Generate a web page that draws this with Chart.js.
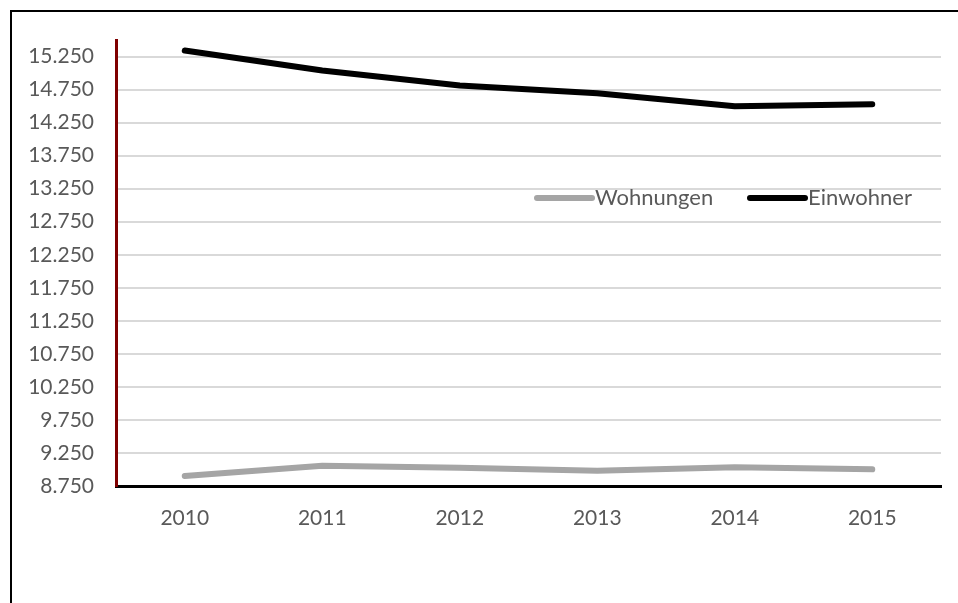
<!DOCTYPE html>
<html>
<head>
<meta charset="utf-8">
<script src="https://cdn.jsdelivr.net/npm/chart.js@4/dist/chart.umd.min.js"></script>
<style>
  html, body { margin: 0; padding: 0; background: #fff; }
  #wrap { width: 958px; height: 603px; }
</style>
</head>
<body>
<div id="wrap"><canvas id="chart" width="958" height="603"></canvas></div>
<script>
// Werte
const jahre = ['2010', '2011', '2012', '2013', '2014', '2015'];
const wohnungen = [8901, 9057, 9027, 8981, 9033, 9002];
const einwohner = [15340, 15038, 14811, 14695, 14498, 14528];
const yTicks = [8750, 9250, 9750, 10250, 10750, 11250, 11750, 12250, 12750, 13250, 13750, 14250, 14750, 15250];
const yMin = 8750;
const yMax = 15500;

const schrift = "Lato, 'Open Sans', sans-serif";
const textFarbe = '#595959';

// Rahmen um das ganze Diagramm
const rahmen = {
    id: 'rahmen',
    beforeDraw(chart) {
        const ctx = chart.ctx;
        ctx.save();
        ctx.fillStyle = '#fff';
        ctx.fillRect(0, 0, chart.width, chart.height);
        ctx.strokeStyle = '#000';
        ctx.lineWidth = 2;
        ctx.strokeRect(11, 11, chart.width + 10, chart.height + 10);
        ctx.restore();
    }
};

// Legende innerhalb der Zeichenfläche
const legende = {
    id: 'legende',
    afterDraw(chart) {
        const ctx = chart.ctx;
        const area = chart.chartArea;
        const y = area.top + 158;
        const starts = [area.left + 421, area.left + 634];
        ctx.save();
        ctx.font = '22px ' + schrift;
        ctx.textBaseline = 'middle';
        chart.data.datasets.forEach(function (ds, i) {
            const x = starts[i];
            ctx.strokeStyle = ds.borderColor;
            ctx.lineWidth = 6;
            ctx.lineCap = 'round';
            ctx.beginPath();
            ctx.moveTo(x, y);
            ctx.lineTo(x + 55, y);
            ctx.stroke();
            ctx.fillStyle = textFarbe;
            ctx.fillText(ds.label, x + 58, y);
        });
        ctx.restore();
    }
};

const ctx = document.getElementById('chart').getContext('2d');
const myChart = new Chart(ctx, {
    type: 'line',
    data: {
        labels: jahre,
        datasets: [{
            label: 'Wohnungen',
            data: wohnungen,
            borderColor: '#A5A5A5',
            backgroundColor: '#A5A5A5',
            borderWidth: 6,
            borderCapStyle: 'round',
            borderJoinStyle: 'round',
            pointRadius: 0,
            tension: 0
        }, {
            label: 'Einwohner',
            data: einwohner,
            borderColor: '#000000',
            backgroundColor: '#000000',
            borderWidth: 6,
            borderCapStyle: 'round',
            borderJoinStyle: 'round',
            pointRadius: 0,
            tension: 0
        }]
    },
    options: {
        responsive: false,
        animation: false,
        layout: {
            padding: { top: 40, right: 17, bottom: 0, left: 0 }
        },
        plugins: {
            legend: { display: false },
            tooltip: { enabled: false }
        },
        scales: {
            x: {
                offset: true,
                grid: { display: false, drawTicks: false },
                border: { display: true, color: '#000', width: 3 },
                ticks: {
                    padding: 20,
                    color: textFarbe,
                    font: { family: schrift, size: 21 }
                },
                afterFit: function (scale) { scale.height = 117; }
            },
            y: {
                min: yMin,
                max: yMax,
                afterBuildTicks: function (scale) {
                    scale.ticks = yTicks.map(function (v) { return { value: v }; });
                },
                grid: { color: '#D9D9D9', lineWidth: 2, drawTicks: false },
                border: { display: true, color: '#7F0000', width: 3 },
                ticks: {
                    padding: 22,
                    color: textFarbe,
                    font: { family: schrift, size: 21 },
                    callback: function (v) { return v.toLocaleString('de-DE'); }
                },
                afterFit: function (scale) { scale.width = 116; }
            }
        }
    },
    plugins: [rahmen, legende]
});
</script>
</body>
</html>
